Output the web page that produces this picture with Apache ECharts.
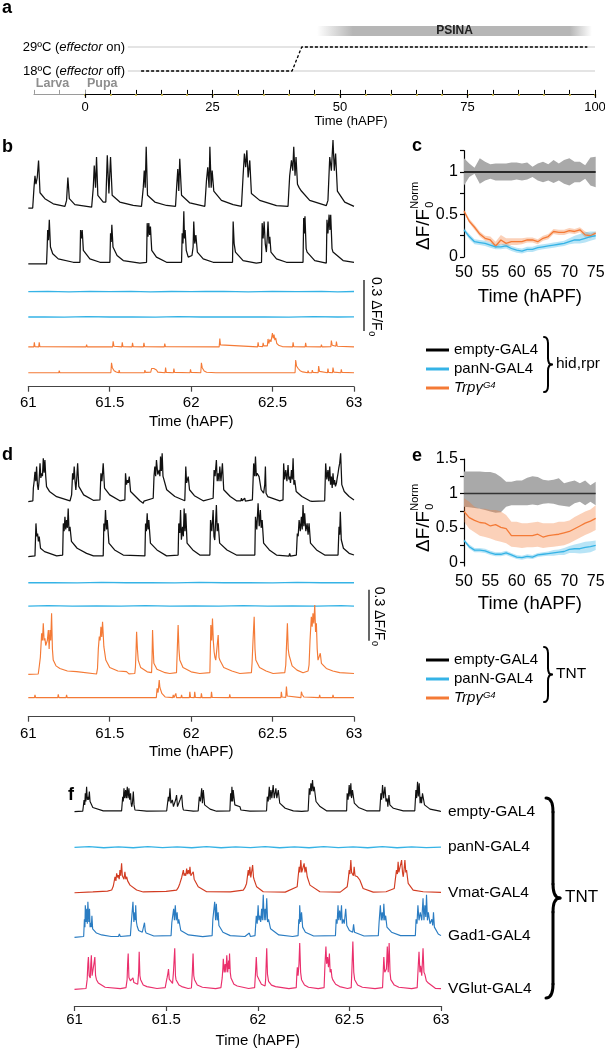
<!DOCTYPE html>
<html><head><meta charset="utf-8">
<script src="https://cdn.jsdelivr.net/npm/echarts@6/dist/echarts.min.js"></script>
<style>html,body{margin:0;padding:0;background:#fff}#c{width:605px;height:1050px}</style>
</head><body><div id="c"></div><script>
// ---------------- DATA ----------------
// Panel a (schedule)
const aTickLabels = [0, 25, 50, 75, 100];
const tempLevels = [18, 29];
const tempLevelSpan = [8.4, 100];
const tempProfile = [[11, 18], [40.6, 18], [42.5, 29], [98.5, 29]];
const psinaRange = [45.5, 99.4];

// Panel b traces [time hAPF, dF/F above baseline]
const bEmpty1 = [[61.0,0],[61.027,0],[61.035,0.12],[61.041,0.19],[61.047,0.14],[61.055,0.18],[61.063,0.28],[61.072,0.09],[61.102,0.055],[61.153,0.025],[61.225,0.01],
[61.235,0.045],[61.243,0.18],[61.252,0.055],[61.286,0.02],[61.389,0.005],
[61.399,0.12],[61.405,0.25],[61.413,0.12],[61.419,0.30],[61.427,0.075],[61.46,0.035],[61.476,0.035],
[61.485,0.31],[61.495,0.085],[61.505,0.30],[61.515,0.075],[61.562,0.035],[61.644,0.015],[61.695,0.01],
[61.706,0.12],[61.712,0.22],[61.718,0.12],[61.724,0.36],[61.732,0.075],[61.777,0.035],[61.849,0.015],[61.904,0.01],
[61.912,0.14],[61.918,0.23],[61.924,0.10],[61.93,0.29],[61.941,0.075],[61.992,0.03],[62.084,0.01],
[62.094,0.16],[62.102,0.24],[62.11,0.12],[62.115,0.36],[62.123,0.12],[62.129,0.22],[62.139,0.10],[62.186,0.045],[62.258,0.02],[62.309,0.01],
[62.319,0.19],[62.327,0.32],[62.335,0.24],[62.342,0.34],[62.35,0.18],[62.36,0.28],[62.37,0.085],[62.421,0.045],[62.524,0.014],[62.595,0.01],
[62.605,0.19],[62.616,0.28],[62.624,0.22],[62.63,0.36],[62.638,0.19],[62.644,0.30],[62.653,0.14],[62.663,0.12],[62.677,0.10],[62.728,0.045],[62.83,0.014],
[62.84,0.045],[62.851,0.30],[62.861,0.22],[62.871,0.40],[62.879,0.22],[62.887,0.32],[62.898,0.10],[62.943,0.035],[63.0,0.01]];
const bEmpty2 = [[61.0,0],[61.112,0],[61.116,0.1],[61.119,0.20],[61.124,0.14],[61.129,0.26],[61.136,0.1],[61.15,0.06],[61.184,0.03],[61.276,0.01],
[61.317,0.01],[61.321,0.20],[61.326,0.15],[61.331,0.20],[61.338,0.08],[61.378,0.03],[61.44,0.01],
[61.501,0.01],[61.505,0.18],[61.509,0.13],[61.513,0.23],[61.52,0.1],[61.532,0.09],[61.545,0.05],[61.583,0.02],[61.685,0.005],
[61.726,0.01],[61.73,0.24],[61.735,0.16],[61.74,0.24],[61.745,0.17],[61.75,0.22],[61.758,0.08],[61.787,0.04],[61.849,0.01],
[61.941,0.01],[61.945,0.18],[61.95,0.12],[61.955,0.31],[61.959,0.15],[61.963,0.2],[61.97,0.08],[61.982,0.04],[62.005,0.05],[62.012,0.1],[62.016,0.25],[62.022,0.12],[62.029,0.17],[62.038,0.07],[62.074,0.03],[62.135,0.01],
[62.254,0.01],[62.258,0.25],[62.264,0.12],[62.272,0.07],[62.319,0.02],[62.4,0.005],
[62.432,0.01],[62.436,0.24],[62.442,0.15],[62.448,0.25],[62.455,0.12],[62.462,0.07],[62.467,0.15],[62.472,0.25],[62.478,0.12],[62.483,0.16],[62.49,0.07],[62.524,0.03],[62.585,0.01],
[62.687,0.01],[62.691,0.27],[62.695,0.18],[62.699,0.28],[62.706,0.09],[62.712,0.07],[62.759,0.02],[62.83,0.005],
[62.834,0.26],[62.84,0.18],[62.847,0.29],[62.852,0.2],[62.857,0.29],[62.865,0.09],[62.871,0.07],[62.933,0.02],[63.0,0.01]];
const bPan1 = [[61,0],[61.12,0.002],[61.25,-0.001],[61.38,0.002],[61.5,0],[61.63,0.002],[61.75,-0.001],[61.88,0.001],[62.0,0],[62.09,0.001],[62.094,0.012],[62.099,0],[62.2,0.002],[62.35,-0.001],[62.5,0.002],[62.65,0],[62.8,0.002],[62.9,-0.001],[63,0.001]];
const bPan2 = [[61,0],[61.1,0.001],[61.22,-0.001],[61.36,0.002],[61.5,0],[61.64,0.001],[61.78,-0.001],[61.92,0.002],[62.06,0],[62.18,0.001],[62.296,0],[62.3,0.008],[62.305,0],[62.45,0.001],[62.6,-0.001],[62.75,0.002],[62.9,0],[63,0.001]];
const bTrp1 = [[61,0],[61.034,0],[61.037,0.027],[61.041,0.002],[61.064,0],[61.067,0.027],[61.071,0.002],[61.355,0],[61.358,0.014],[61.362,0],[61.518,0],[61.521,0.033],[61.526,0.004],[61.574,0],[61.577,0.027],[61.581,0.002],[61.637,0],[61.64,0.024],[61.644,0.002],[61.707,0],[61.71,0.024],[61.714,0.002],[61.835,0],[61.838,0.02],[61.842,0.002],[62.172,0],[62.176,0.049],[62.18,0.012],[62.19,0.004],[62.408,0],[62.411,0.027],[62.415,0.004],[62.439,0.002],[62.442,0.024],[62.446,0.006],[62.468,0.006],[62.472,0.047],[62.477,0.02],[62.483,0.043],[62.49,0.03],[62.495,0.04],[62.499,0.082],[62.504,0.05],[62.509,0.073],[62.514,0.04],[62.519,0.053],[62.526,0.02],[62.54,0.008],[62.56,0.002],[62.623,0],[62.626,0.027],[62.63,0.002],[62.7,0],[62.703,0.024],[62.707,0.002],[62.797,0],[62.8,0.014],[62.804,0],[62.858,0.002],[62.861,0.037],[62.866,0.01],[62.889,0.004],[62.892,0.031],[62.897,0.004],[63,0]];
const bTrp2 = [[61,0],[61.187,0],[61.19,0.012],[61.194,0],[61.212,0],[61.215,0.01],[61.219,0],[61.507,0],[61.511,0.059],[61.516,0.03],[61.521,0.039],[61.527,0.012],[61.54,0.004],[61.555,0],[61.558,0.016],[61.562,0],[61.713,0],[61.716,0.016],[61.72,0.002],[61.752,0.004],[61.757,0.025],[61.764,0.02],[61.771,0.025],[61.78,0.018],[61.787,0.016],[61.795,0.004],[61.84,0],[61.843,0.031],[61.847,0.002],[61.891,0],[61.894,0.025],[61.898,0.002],[61.993,0],[61.996,0.02],[62.0,0.002],[62.059,0],[62.063,0.059],[62.068,0.03],[62.074,0.035],[62.08,0.01],[62.095,0.003],[62.152,0],[62.155,0.008],[62.159,0],[62.388,0],[62.391,0.01],[62.395,0],[62.638,0],[62.642,0.075],[62.647,0.04],[62.652,0.045],[62.657,0.025],[62.663,0.031],[62.669,0.012],[62.677,0.016],[62.685,0.005],[62.715,0],[62.718,0.012],[62.722,0],[62.741,0],[62.744,0.016],[62.748,0.002],[62.78,0],[62.783,0.039],[62.788,0.008],[62.837,0],[62.84,0.025],[62.844,0.002],[62.868,0],[62.871,0.031],[62.876,0.004],[62.919,0],[62.922,0.02],[62.926,0.002],[63,0]];

// Panel c (hid,rpr) summary, hAPF 50..75
const cTime = [50,51,52,53,54,55,56,57,58,59,60,61,62,63,64,65,66,67,68,69,70,71,72,73,74,75];
const cEmptyMean  = [1,1,1,1,1,1,1,1,1,1,1,1,1,1,1,1,1,1,1,1,1,1,1,1,1,1];
const cEmptyUpper = [1.16,1.10,1.05,1.16,1.12,1.09,1.10,1.10,1.10,1.11,1.11,1.10,1.11,1.06,1.10,1.12,1.09,1.14,1.10,1.14,1.16,1.12,1.12,1.08,1.17,1.18];
const cEmptyLower = [0.84,0.94,0.98,0.86,0.90,0.92,0.90,0.90,0.90,0.90,0.91,0.90,0.91,0.94,0.90,0.88,0.90,0.87,0.90,0.86,0.84,0.88,0.88,0.92,0.84,0.82];
const cPanMean  = [0.32,0.24,0.18,0.17,0.16,0.14,0.12,0.12,0.13,0.10,0.08,0.07,0.09,0.09,0.11,0.12,0.13,0.14,0.15,0.16,0.18,0.20,0.20,0.22,0.24,0.25];
const cPanUpper = [0.34,0.27,0.21,0.20,0.19,0.17,0.15,0.15,0.16,0.13,0.11,0.10,0.12,0.12,0.14,0.15,0.16,0.17,0.18,0.19,0.22,0.25,0.27,0.29,0.30,0.30];
const cPanLower = [0.30,0.21,0.15,0.14,0.13,0.11,0.09,0.09,0.10,0.07,0.05,0.04,0.06,0.06,0.08,0.09,0.10,0.11,0.12,0.13,0.15,0.16,0.16,0.17,0.19,0.21];
const cTrpMean  = [0.54,0.42,0.35,0.27,0.22,0.20,0.13,0.20,0.16,0.18,0.18,0.18,0.20,0.20,0.18,0.22,0.24,0.30,0.29,0.29,0.31,0.30,0.32,0.26,0.25,0.28];
const cTrpUpper = [0.56,0.45,0.38,0.30,0.25,0.24,0.18,0.26,0.22,0.22,0.22,0.22,0.23,0.23,0.21,0.25,0.27,0.33,0.32,0.32,0.34,0.33,0.35,0.30,0.28,0.30];
const cTrpLower = [0.52,0.40,0.32,0.24,0.19,0.17,0.10,0.15,0.12,0.14,0.14,0.15,0.17,0.17,0.15,0.19,0.21,0.27,0.26,0.26,0.28,0.27,0.29,0.23,0.22,0.26];

// Panel d traces (TNT)
const dEmpty1 = [[61,0],[61.028,0.005],[61.031,0.08],[61.036,0.12],[61.041,0.176],[61.046,0.12],[61.051,0.206],[61.056,0.10],[61.061,0.069],[61.066,0.12],[61.072,0.225],[61.077,0.14],[61.082,0.167],[61.087,0.15],[61.092,0.255],[61.097,0.17],[61.102,0.245],[61.107,0.15],[61.112,0.088],[61.13,0.06],[61.174,0.029],[61.256,0.004],
[61.266,0.04],[61.272,0.167],[61.277,0.13],[61.282,0.206],[61.287,0.12],[61.292,0.069],[61.297,0.13],[61.303,0.225],[61.31,0.09],[61.34,0.04],[61.399,0.008],
[61.44,0.01],[61.446,0.167],[61.452,0.12],[61.46,0.225],[61.468,0.08],[61.5,0.04],[61.562,0.005],
[61.593,0.01],[61.597,0.167],[61.603,0.1],[61.609,0.127],[61.614,0.11],[61.62,0.147],[61.628,0.06],[61.685,0.005],[61.706,-0.01],[61.71,0.003],
[61.767,0.02],[61.772,0.15],[61.777,0.206],[61.782,0.15],[61.787,0.245],[61.795,0.16],[61.804,0.186],[61.808,0.15],[61.812,0.265],[61.817,0.18],[61.822,0.284],[61.827,0.15],[61.832,0.147],[61.85,0.07],[61.9,0.03],[61.961,0.005],
[61.964,0.1],[61.967,0.206],[61.972,0.11],[61.977,0.12],[61.982,0.147],[61.99,0.07],[62.02,0.035],[62.074,0.005],
[62.135,0.02],[62.141,0.186],[62.147,0.15],[62.155,0.245],[62.16,0.12],[62.166,0.167],[62.171,0.12],[62.176,0.206],[62.183,0.12],[62.192,0.225],[62.2,0.07],[62.24,0.03],[62.278,0.005],[62.305,0.005],[62.309,0.02],[62.313,0.005],[62.325,0.005],[62.329,0.02],[62.333,0.003],
[62.376,0.01],[62.384,0.225],[62.39,0.15],[62.395,0.265],[62.4,0.15],[62.405,0.167],[62.417,0.147],[62.43,0.07],[62.445,0.05],[62.452,0.1],[62.456,0.206],[62.46,0.05],[62.47,0.03],[62.544,0.005],
[62.564,0.01],[62.568,0.225],[62.574,0.13],[62.581,0.186],[62.588,0.12],[62.595,0.216],[62.6,0.13],[62.605,0.147],[62.61,0.11],[62.616,0.186],[62.621,0.13],[62.626,0.255],[62.631,0.1],[62.636,0.127],[62.645,0.06],[62.68,0.03],[62.728,0.005],[62.735,0.002],[62.738,0.015],[62.742,0.002],
[62.82,0.005],[62.826,0.225],[62.833,0.13],[62.84,0.186],[62.845,0.12],[62.851,0.206],[62.856,0.1],[62.861,0.147],[62.866,0.08],[62.871,0.167],[62.876,0.1],[62.881,0.127],[62.886,0.09],[62.892,0.108],[62.897,0.14],[62.902,0.167],[62.907,0.2],[62.912,0.225],[62.918,0.284],[62.925,0.1],[62.94,0.06],[62.97,0.03],[63,0.01]];
const dEmpty2 = [[61,0],[61.041,0.005],[61.047,0.196],[61.052,0.12],[61.057,0.137],[61.062,0.09],[61.067,0.118],[61.075,0.05],[61.1,0.03],[61.174,0.005],
[61.211,0.01],[61.215,0.196],[61.22,0.15],[61.225,0.235],[61.23,0.16],[61.235,0.216],[61.24,0.17],[61.245,0.284],[61.25,0.15],[61.256,0.176],[61.265,0.09],[61.3,0.05],[61.358,0.02],[61.4,0.005],
[61.46,0.005],[61.464,0.196],[61.469,0.15],[61.474,0.275],[61.48,0.16],[61.485,0.216],[61.495,0.08],[61.53,0.04],[61.583,0.01],
[61.716,0.005],[61.72,0.196],[61.725,0.15],[61.73,0.255],[61.735,0.16],[61.74,0.216],[61.75,0.08],[61.79,0.04],[61.849,0.005],
[61.92,0.01],[61.924,0.196],[61.93,0.14],[61.935,0.275],[61.94,0.1],[61.947,0.176],[61.952,0.12],[61.957,0.284],[61.962,0.15],[61.967,0.255],[61.975,0.08],[62.01,0.04],[62.053,0.01],
[62.115,0.01],[62.119,0.216],[62.127,0.15],[62.135,0.275],[62.14,0.12],[62.145,0.098],[62.15,0.2],[62.155,0.304],[62.16,0.15],[62.166,0.196],[62.175,0.08],[62.22,0.04],[62.278,0.01],
[62.391,0.01],[62.395,0.235],[62.403,0.16],[62.411,0.314],[62.418,0.18],[62.425,0.275],[62.43,0.17],[62.436,0.216],[62.445,0.08],[62.48,0.04],[62.524,0.01],[62.6,0.003],[62.605,0.02],[62.61,0.003],
[62.646,0.01],[62.652,0.137],[62.657,0.12],[62.663,0.216],[62.67,0.15],[62.677,0.235],[62.682,0.16],[62.687,0.304],[62.692,0.18],[62.697,0.255],[62.704,0.15],[62.712,0.196],[62.718,0.13],[62.724,0.196],[62.733,0.08],[62.77,0.04],[62.82,0.01],
[62.902,0.01],[62.908,0.176],[62.912,0.13],[62.916,0.265],[62.922,0.1],[62.935,0.05],[62.97,0.02],[63,0.01]];
const dPan1 = [[61,0],[61.15,0.001],[61.3,-0.001],[61.45,0.002],[61.6,0],[61.75,0.001],[61.9,-0.001],[62.05,0.002],[62.2,0],[62.35,0.001],[62.5,-0.001],[62.65,0.002],[62.8,0],[62.95,0.001],[63,0]];
const dPan2 = [[61,0],[61.12,0.002],[61.27,-0.001],[61.42,0.001],[61.57,0],[61.72,0.002],[61.87,-0.001],[62.02,0.001],[62.17,0],[62.32,0.002],[62.47,-0.001],[62.62,0.001],[62.77,0],[62.92,0.002],[63,0]];
const dTrp1 = [[61,0],[61.061,0.002],[61.067,0.045],[61.074,0.1],[61.082,0.241],[61.087,0.2],[61.092,0.3],[61.097,0.2],[61.102,0.212],[61.107,0.17],[61.112,0.163],[61.117,0.2],[61.123,0.261],[61.128,0.15],[61.133,0.261],[61.138,0.2],[61.143,0.359],[61.148,0.15],[61.153,0.084],[61.17,0.05],[61.194,0.035],[61.24,0.02],[61.297,0.016],[61.419,0.002],
[61.425,0.035],[61.43,0.15],[61.436,0.222],[61.441,0.2],[61.446,0.28],[61.451,0.22],[61.456,0.31],[61.464,0.163],[61.476,0.084],[61.5,0.04],[61.55,0.02],[61.603,0.016],[61.608,0.005],[61.613,0.016],[61.618,0.003],
[61.654,0.005],[61.658,0.045],[61.662,0.15],[61.665,0.251],[61.67,0.15],[61.675,0.084],[61.69,0.04],[61.73,0.015],[61.757,0.01],
[61.76,0.1],[61.763,0.261],[61.767,0.15],[61.771,0.065],[61.79,0.03],[61.84,0.01],[61.869,0.005],
[61.91,0.01],[61.915,0.15],[61.92,0.29],[61.925,0.15],[61.93,0.084],[61.95,0.04],[62.0,0.015],[62.053,0.005],
[62.115,0.01],[62.121,0.29],[62.126,0.2],[62.131,0.329],[62.136,0.2],[62.141,0.133],[62.146,0.1],[62.151,0.084],[62.158,0.15],[62.166,0.231],[62.171,0.1],[62.176,0.084],[62.2,0.04],[62.25,0.02],[62.299,0.005],
[62.37,0.01],[62.374,0.065],[62.38,0.2],[62.387,0.339],[62.392,0.15],[62.397,0.084],[62.42,0.04],[62.46,0.02],[62.503,0.005],
[62.575,0.01],[62.581,0.055],[62.586,0.18],[62.591,0.3],[62.596,0.15],[62.601,0.114],[62.62,0.05],[62.65,0.025],[62.687,0.01],
[62.718,0.02],[62.724,0.055],[62.73,0.2],[62.738,0.339],[62.743,0.28],[62.748,0.359],[62.753,0.3],[62.759,0.408],[62.764,0.25],[62.769,0.3],[62.774,0.15],[62.779,0.084],[62.787,0.09],[62.793,0.124],[62.8,0.065],[62.83,0.035],[62.87,0.02],[62.912,0.01],[63,0.005]];
const dTrp2 = [[61,0],[61.038,0],[61.041,0.016],[61.045,0],[61.181,0],[61.184,0.02],[61.188,0],[61.232,0],[61.235,0.016],[61.239,0],[61.324,0],[61.327,0.008],[61.331,0],[61.6,0],[61.603,0.01],[61.607,0],[61.786,0],[61.791,0.055],[61.797,0.03],[61.804,0.104],[61.808,0.06],[61.812,0.065],[61.82,0.025],[61.828,0.016],[61.84,0.004],[61.887,0],[61.89,0.016],[61.894,0],[61.903,0],[61.906,0.025],[61.91,0],[61.938,0],[61.941,0.016],[61.945,0],[61.989,0],[61.992,0.035],[61.996,0.002],[62.019,0],[62.022,0.035],[62.026,0.002],[62.06,0],[62.063,0.025],[62.067,0],[62.122,0],[62.125,0.035],[62.129,0.002],[62.234,0],[62.237,0.02],[62.241,0],[62.275,0],[62.278,0.01],[62.282,0],[62.551,0],[62.554,0.035],[62.558,0.004],[62.581,0.002],[62.585,0.065],[62.59,0.01],[62.674,0],[62.677,0.035],[62.681,0.02],[62.687,0.031],[62.692,0.004],[62.786,0],[62.789,0.016],[62.793,0],[62.868,0],[62.871,0.016],[62.875,0],[62.94,0],[62.943,0.01],[62.947,0],[63,0]];

// Panel e (TNT) summary
const eEmptyMean  = [1,1,1,1,1,1,1,1,1,1,1,1,1,1,1,1,1,1,1,1,1,1,1,1,1,1];
const eEmptyUpper = [1.32,1.32,1.32,1.32,1.31,1.31,1.29,1.24,1.17,1.17,1.19,1.19,1.23,1.25,1.24,1.20,1.19,1.20,1.22,1.15,1.17,1.19,1.15,1.19,1.12,1.17];
const eEmptyLower = [0.81,0.80,0.79,0.78,0.76,0.74,0.72,0.73,0.81,0.83,0.83,0.83,0.83,0.84,0.83,0.85,0.86,0.85,0.83,0.82,0.81,0.86,0.88,0.83,0.88,0.83];
const ePanMean  = [0.32,0.23,0.18,0.18,0.17,0.14,0.12,0.12,0.14,0.11,0.08,0.07,0.09,0.08,0.11,0.12,0.13,0.14,0.15,0.16,0.19,0.20,0.20,0.22,0.23,0.25];
const ePanUpper = [0.34,0.26,0.21,0.21,0.20,0.17,0.15,0.15,0.17,0.14,0.11,0.10,0.12,0.11,0.14,0.15,0.16,0.18,0.19,0.21,0.24,0.26,0.28,0.30,0.31,0.32];
const ePanLower = [0.30,0.20,0.15,0.15,0.14,0.11,0.09,0.09,0.11,0.08,0.05,0.04,0.06,0.05,0.08,0.09,0.10,0.10,0.11,0.11,0.14,0.14,0.13,0.14,0.15,0.18];
const eTrpMean  = [0.74,0.65,0.61,0.58,0.57,0.53,0.55,0.51,0.49,0.39,0.39,0.39,0.39,0.39,0.41,0.37,0.39,0.40,0.41,0.43,0.45,0.49,0.53,0.57,0.60,0.64];
const eTrpUpper = [0.93,0.88,0.81,0.78,0.78,0.76,0.76,0.74,0.69,0.59,0.59,0.57,0.57,0.58,0.59,0.57,0.57,0.57,0.59,0.59,0.61,0.66,0.70,0.74,0.77,0.83];
const eTrpLower = [0.59,0.49,0.44,0.39,0.37,0.35,0.32,0.30,0.28,0.23,0.22,0.21,0.22,0.22,0.23,0.21,0.22,0.23,0.24,0.25,0.28,0.32,0.36,0.40,0.43,0.47];

// Panel f traces (TNT with various drivers)
const fEmpty = [[61,0],[61.045,0.003],[61.048,0.03],[61.052,0.069],[61.056,0.04],[61.059,0.108],[61.062,0.06],[61.066,0.147],[61.07,0.07],[61.074,0.088],[61.077,0.07],[61.081,0.118],[61.085,0.06],[61.088,0.049],[61.1,0.025],[61.157,0.005],
[61.257,0.005],[61.263,0.088],[61.266,0.06],[61.27,0.137],[61.274,0.08],[61.279,0.127],[61.283,0.08],[61.288,0.147],[61.292,0.08],[61.297,0.137],[61.301,0.07],[61.306,0.108],[61.309,0.05],[61.312,0.029],[61.316,0.05],[61.321,0.118],[61.325,0.04],[61.33,0.01],[61.34,0.02],[61.394,0.003],
[61.503,0.005],[61.512,0.088],[61.516,0.06],[61.521,0.137],[61.526,0.05],[61.534,0.069],[61.54,0.03],[61.548,0.029],[61.552,0.07],[61.557,0.098],[61.562,0.03],[61.572,0.029],[61.576,0.07],[61.585,0.098],[61.59,0.03],[61.594,0.01],[61.648,0.003],
[61.675,0.005],[61.681,0.088],[61.687,0.06],[61.694,0.137],[61.698,0.05],[61.703,0.127],[61.71,0.04],[61.74,0.015],[61.775,0.003],
[61.848,0.005],[61.852,0.108],[61.856,0.06],[61.859,0.147],[61.863,0.06],[61.866,0.127],[61.875,0.04],[61.903,0.029],[61.908,0.01],[61.912,0.02],[61.916,0.005],[61.957,0.003],
[62.048,0.005],[62.052,0.088],[62.057,0.06],[62.063,0.147],[62.067,0.07],[62.072,0.127],[62.077,0.08],[62.084,0.157],[62.09,0.08],[62.099,0.137],[62.104,0.08],[62.112,0.127],[62.12,0.05],[62.15,0.02],[62.194,0.005],[62.24,0.002],[62.244,0.01],[62.248,0.002],
[62.275,0.005],[62.281,0.137],[62.285,0.1],[62.29,0.167],[62.294,0.12],[62.299,0.186],[62.303,0.12],[62.308,0.147],[62.318,0.06],[62.34,0.03],[62.375,0.005],
[62.485,0.005],[62.488,0.108],[62.493,0.07],[62.499,0.157],[62.503,0.09],[62.508,0.167],[62.512,0.08],[62.517,0.127],[62.527,0.05],[62.55,0.025],[62.594,0.005],
[62.666,0.005],[62.672,0.108],[62.676,0.07],[62.681,0.157],[62.687,0.08],[62.694,0.147],[62.7,0.06],[62.706,0.078],[62.71,0.03],[62.716,0.098],[62.721,0.04],[62.74,0.02],[62.794,0.005],
[62.857,0.005],[62.863,0.127],[62.867,0.08],[62.872,0.176],[62.876,0.09],[62.881,0.167],[62.886,0.05],[62.89,0.088],[62.894,0.05],[62.899,0.108],[62.91,0.04],[62.94,0.015],[62.994,0.003],[63,0.002]];
const fPan = [[61,0],[61.08,0.004],[61.16,-0.002],[61.24,0.003],[61.32,-0.002],[61.4,0.004],[61.48,-0.001],[61.56,0.003],[61.64,-0.002],[61.72,0.004],[61.8,-0.002],[61.88,0.003],[61.96,-0.001],[62.04,0.004],[62.12,-0.002],[62.2,0.003],[62.28,-0.002],[62.36,0.004],[62.44,-0.001],[62.52,0.003],[62.6,-0.002],[62.68,0.004],[62.76,-0.002],[62.84,0.003],[62.92,-0.001],[63,0.002]];
const fVmat = [[61,0],[61.1,0.005],[61.18,0.01],[61.203,0.016],[61.212,0.04],[61.221,0.094],[61.226,0.07],[61.23,0.114],[61.235,0.09],[61.239,0.104],[61.244,0.08],[61.248,0.133],[61.252,0.1],[61.257,0.173],[61.261,0.1],[61.266,0.104],[61.27,0.08],[61.275,0.124],[61.28,0.08],[61.285,0.094],[61.29,0.07],[61.294,0.075],[61.303,0.045],[61.339,0.016],[61.375,0.005],[61.5,0.008],
[61.557,0.016],[61.566,0.03],[61.575,0.055],[61.585,0.09],[61.594,0.133],[61.598,0.1],[61.603,0.114],[61.607,0.1],[61.612,0.143],[61.616,0.11],[61.621,0.133],[61.626,0.11],[61.63,0.153],[61.635,0.1],[61.639,0.104],[61.644,0.09],[61.648,0.124],[61.653,0.08],[61.657,0.075],[61.675,0.035],[61.721,0.006],[61.85,0.005],
[61.921,0.016],[61.93,0.03],[61.939,0.055],[61.948,0.133],[61.952,0.1],[61.957,0.153],[61.962,0.09],[61.966,0.094],[61.972,0.163],[61.977,0.09],[61.981,0.075],[61.994,0.035],[62.03,0.006],[62.15,0.004],
[62.215,0.035],[62.22,0.09],[62.226,0.153],[62.23,0.12],[62.235,0.192],[62.24,0.12],[62.244,0.114],[62.249,0.13],[62.253,0.173],[62.258,0.12],[62.263,0.153],[62.27,0.094],[62.285,0.045],[62.339,0.006],[62.45,0.004],
[62.488,0.035],[62.494,0.08],[62.499,0.133],[62.503,0.11],[62.508,0.192],[62.512,0.12],[62.517,0.114],[62.522,0.1],[62.526,0.153],[62.531,0.1],[62.535,0.104],[62.544,0.094],[62.557,0.075],[62.575,0.025],[62.63,0.004],[62.7,0.006],
[62.745,0.025],[62.751,0.08],[62.757,0.133],[62.762,0.11],[62.766,0.182],[62.77,0.12],[62.775,0.114],[62.78,0.13],[62.785,0.192],[62.79,0.12],[62.794,0.094],[62.798,0.13],[62.803,0.192],[62.808,0.12],[62.812,0.133],[62.821,0.055],[62.848,0.016],[62.903,0.006],[63,0.002]];
const fGad1 = [[61,0],[61.05,0.005],[61.054,0.106],[61.057,0.06],[61.059,0.188],[61.063,0.09],[61.067,0.168],[61.07,0.08],[61.073,0.209],[61.078,0.09],[61.082,0.168],[61.085,0.06],[61.088,0.086],[61.092,0.06],[61.095,0.127],[61.099,0.05],[61.101,0.045],[61.12,0.025],[61.148,0.014],[61.2,0.005],[61.24,0.005],[61.245,0.02],[61.25,0.005],
[61.305,0.01],[61.31,0.086],[61.315,0.08],[61.319,0.209],[61.324,0.09],[61.329,0.147],[61.332,0.1],[61.334,0.188],[61.338,0.09],[61.342,0.065],[61.35,0.04],[61.37,0.03],[61.376,0.035],[61.382,0.086],[61.386,0.04],[61.391,0.025],[61.433,0.008],
[61.527,0.01],[61.531,0.086],[61.536,0.08],[61.541,0.168],[61.545,0.1],[61.55,0.188],[61.555,0.1],[61.56,0.147],[61.565,0.08],[61.569,0.106],[61.58,0.04],[61.622,0.014],[61.7,0.004],
[61.751,0.01],[61.755,0.106],[61.76,0.1],[61.765,0.209],[61.77,0.1],[61.774,0.198],[61.779,0.1],[61.784,0.147],[61.788,0.07],[61.793,0.065],[61.81,0.03],[61.85,0.01],[61.93,0.005],
[61.954,0.025],[61.96,0.005],[61.985,0.01],[61.992,0.127],[61.997,0.08],[62.002,0.188],[62.006,0.1],[62.011,0.127],[62.016,0.09],[62.021,0.168],[62.025,0.1],[62.03,0.25],[62.035,0.1],[62.04,0.168],[62.044,0.1],[62.049,0.229],[62.054,0.09],[62.059,0.106],[62.07,0.05],[62.115,0.014],[62.19,0.005],
[62.22,0.01],[62.224,0.106],[62.227,0.08],[62.229,0.188],[62.234,0.09],[62.239,0.147],[62.245,0.06],[62.26,0.03],[62.305,0.008],
[62.424,0.01],[62.428,0.106],[62.433,0.08],[62.438,0.188],[62.442,0.1],[62.447,0.157],[62.452,0.1],[62.457,0.188],[62.461,0.08],[62.466,0.106],[62.472,0.08],[62.48,0.168],[62.486,0.07],[62.491,0.065],[62.5,0.04],[62.518,0.03],[62.523,0.076],[62.528,0.03],[62.533,0.025],[62.58,0.008],
[62.658,0.01],[62.662,0.086],[62.666,0.08],[62.669,0.188],[62.674,0.1],[62.679,0.147],[62.684,0.1],[62.688,0.198],[62.693,0.1],[62.698,0.127],[62.705,0.06],[62.713,0.065],[62.73,0.03],[62.779,0.01],
[62.86,0.01],[62.864,0.106],[62.869,0.08],[62.874,0.188],[62.88,0.1],[62.887,0.147],[62.895,0.1],[62.902,0.229],[62.907,0.1],[62.912,0.188],[62.917,0.12],[62.921,0.25],[62.926,0.1],[62.931,0.147],[62.94,0.08],[62.95,0.106],[62.955,0.07],[62.959,0.147],[62.964,0.06],[62.969,0.065],[62.985,0.02],[63,0.01]];
const fVGlut = [[61,0],[61.063,0.005],[61.069,0.057],[61.073,0.15],[61.076,0.19],[61.08,0.08],[61.086,0.067],[61.089,0.15],[61.092,0.2],[61.096,0.08],[61.101,0.078],[61.106,0.15],[61.111,0.19],[61.115,0.08],[61.12,0.057],[61.13,0.037],[61.167,0.012],[61.25,0.004],
[61.281,0.01],[61.287,0.057],[61.29,0.15],[61.293,0.211],[61.297,0.07],[61.3,0.078],[61.305,0.05],[61.31,0.057],[61.314,0.05],[61.319,0.067],[61.324,0.04],[61.329,0.037],[61.345,0.03],[61.35,0.1],[61.353,0.221],[61.357,0.08],[61.361,0.057],[61.375,0.025],[61.395,0.016],[61.45,0.005],
[61.495,0.01],[61.5,0.04],[61.505,0.067],[61.509,0.09],[61.513,0.119],[61.517,0.06],[61.52,0.057],[61.535,0.035],[61.54,0.1],[61.547,0.241],[61.551,0.08],[61.554,0.057],[61.57,0.025],[61.585,0.016],[61.62,0.005],
[61.638,0.008],[61.643,0.1],[61.647,0.211],[61.651,0.08],[61.655,0.057],[61.67,0.025],[61.698,0.012],[61.77,0.004],
[61.799,0.01],[61.806,0.067],[61.81,0.13],[61.812,0.18],[61.817,0.1],[61.822,0.149],[61.826,0.1],[61.831,0.2],[61.836,0.1],[61.841,0.17],[61.844,0.12],[61.846,0.211],[61.85,0.1],[61.854,0.067],[61.87,0.03],[61.888,0.02],[61.95,0.005],
[61.983,0.01],[61.988,0.1],[61.992,0.19],[61.997,0.08],[62.002,0.078],[62.006,0.06],[62.011,0.067],[62.02,0.03],[62.04,0.02],[62.043,0.057],[62.046,0.15],[62.049,0.241],[62.053,0.09],[62.059,0.047],[62.075,0.025],[62.097,0.016],[62.17,0.004],
[62.21,0.01],[62.213,0.08],[62.216,0.129],[62.22,0.08],[62.225,0.15],[62.229,0.272],[62.234,0.1],[62.239,0.057],[62.255,0.025],[62.277,0.012],[62.33,0.004],
[62.362,0.01],[62.367,0.15],[62.372,0.252],[62.376,0.15],[62.381,0.19],[62.386,0.13],[62.391,0.211],[62.395,0.1],[62.4,0.119],[62.405,0.07],[62.409,0.057],[62.425,0.03],[62.447,0.016],[62.49,0.005],
[62.51,0.01],[62.514,0.12],[62.519,0.282],[62.524,0.1],[62.529,0.057],[62.545,0.025],[62.571,0.012],[62.64,0.004],
[62.681,0.01],[62.688,0.19],[62.693,0.1],[62.698,0.108],[62.702,0.12],[62.707,0.252],[62.712,0.1],[62.717,0.272],[62.722,0.1],[62.726,0.057],[62.745,0.025],[62.77,0.012],[62.84,0.004],
[62.87,0.01],[62.875,0.12],[62.88,0.221],[62.885,0.1],[62.889,0.139],[62.895,0.08],[62.902,0.241],[62.907,0.1],[62.912,0.088],[62.92,0.05],[62.931,0.037],[62.969,0.006],[63,0.004]];
const fLabels = ['empty-GAL4', 'panN-GAL4', 'Vmat-GAL4', 'Gad1-GAL4', 'VGlut-GAL4'];
const scaleBarValue = 0.3;

// ---------------- STYLE / LAYOUT ----------------
const FONT = '"Liberation Sans", Arial, Helvetica, sans-serif';
const C_BLACK = '#111111', C_BLUE = '#35b3e6', C_ORANGE = '#f47a36';
const C_VMAT = '#d23c22', C_GAD1 = '#2a7cc2', C_VGLUT = '#ea2f6c';
const bOffsets = [1.051, 0.722, 0.559, 0.41, 0.234, 0.082];
const dOffsets = [1.265, 0.941, 0.788, 0.651, 0.249, 0.112];
const fOffsets = [1.143, 0.933, 0.666, 0.404, 0.098];

function G(left, top, width, height) {
  return {left, top, width, height, containLabel: false, outerBoundsMode: 'none', show: false};
}
function hiddenY(gi, min, max) {
  return {gridIndex: gi, type: 'value', min, max, show: false, splitLine: {show: false}};
}
function timeAxis(gi, margin, gap) {
  return {gridIndex: gi, type: 'value', position: 'bottom', min: 61, max: 63, interval: 0.5,
    axisLine: {show: true, onZero: false, lineStyle: {color: '#444', width: 1.2}},
    axisTick: {show: true, length: 5, lineStyle: {color: '#444', width: 1.2}},
    axisLabel: {fontSize: 15, color: '#000', margin, fontFamily: FONT},
    splitLine: {show: false},
    name: 'Time (hAPF)', nameLocation: 'middle', nameGap: gap,
    nameTextStyle: {fontSize: 15, color: '#000', fontFamily: FONT}};
}
function sumXAxis(gi, margin, gap) {
  return {gridIndex: gi, type: 'value', position: 'bottom', min: 50, max: 75, interval: 5,
    axisLine: {show: false, onZero: false}, axisTick: {show: false},
    axisLabel: {fontSize: 16, color: '#000', margin, fontFamily: FONT},
    splitLine: {show: false},
    name: 'Time (hAPF)', nameLocation: 'middle', nameGap: gap,
    nameTextStyle: {fontSize: 18.5, color: '#000', fontFamily: FONT}};
}
function trace(name, data, offset, color, xi, yi, width, extra) {
  return Object.assign({name, type: 'line', xAxisIndex: xi, yAxisIndex: yi,
    data: data.map(p => [p[0], p[1] + offset]), showSymbol: false, symbol: 'none',
    color, lineStyle: {color, width: width || 1.1}, silent: true, z: 3}, extra || {});
}
function band(xs, lo, hi, fill, xi, yi) {
  return {type: 'custom', xAxisIndex: xi, yAxisIndex: yi, silent: true, data: [0], z: 2,
    renderItem: (params, api) => {
      const pts = [];
      for (let i = 0; i < xs.length; i++) pts.push(api.coord([xs[i], hi[i]]));
      for (let i = xs.length - 1; i >= 0; i--) pts.push(api.coord([xs[i], lo[i]]));
      return {type: 'polygon', shape: {points: pts}, style: {fill}};
    }};
}
function meanLine(name, xs, ys, color, width, xi, yi) {
  return {name, type: 'line', xAxisIndex: xi, yAxisIndex: yi, data: xs.map((x, i) => [x, ys[i]]),
    showSymbol: false, symbol: 'none', color, itemStyle: {color}, lineStyle: {color, width}, silent: true, z: 4};
}
function legendAt(top) {
  return {data: ['empty-GAL4', 'panN-GAL4', 'Trpγ'], orient: 'vertical', left: 421, top,
    itemWidth: 23, itemHeight: 3, itemGap: 4, icon: 'rect', selectedMode: false,
    formatter: n => n === 'Trpγ' ? '{i|Trpγ}{s|G4}' : n,
    textStyle: {fontSize: 15, color: '#000', fontFamily: FONT, lineHeight: 15,
      rich: {i: {fontStyle: 'italic', fontSize: 15, fontFamily: FONT, color: '#000', lineHeight: 15},
             s: {fontStyle: 'italic', fontSize: 9.5, fontFamily: FONT, color: '#000', verticalAlign: 'top', lineHeight: 15}}}};
}

const series = [];
// Panel a
tempLevels.forEach(lv => series.push({type: 'line', xAxisIndex: 0, yAxisIndex: 0, data: [[tempLevelSpan[0], lv], [tempLevelSpan[1], lv]],
  showSymbol: false, symbol: 'none', lineStyle: {color: '#c9c9c9', width: 1}, silent: true, z: 1}));
series.push({type: 'line', xAxisIndex: 0, yAxisIndex: 0, data: tempProfile, showSymbol: false, symbol: 'none',
  lineStyle: {color: '#000', width: 1.3, type: [3, 2]}, silent: true, z: 3});
series.push({type: 'custom', xAxisIndex: 0, yAxisIndex: 0, silent: true, data: [psinaRange], z: 2,
  renderItem: (params, api) => {
    const a = api.coord([api.value(0), 38.6]), b = api.coord([api.value(1), 34.0]);
    return {type: 'group', children: [
      {type: 'rect', shape: {x: a[0], y: a[1], width: b[0] - a[0], height: b[1] - a[1]},
        style: {fill: new echarts.graphic.LinearGradient(0, 0, 1, 0, [
          {offset: 0, color: 'rgba(182,182,182,0)'}, {offset: 0.13, color: '#b6b6b6'},
          {offset: 0.92, color: '#b6b6b6'}, {offset: 1, color: 'rgba(182,182,182,0)'}])}},
      {type: 'text', style: {text: 'PSINA', x: (a[0] + b[0]) / 2, y: (a[1] + b[1]) / 2, align: 'center', verticalAlign: 'middle',
        textAlign: 'center', textVerticalAlign: 'middle', font: 'bold 12px ' + FONT, fill: '#222'}}]};
  }});
// Panel b
[bEmpty1, bEmpty2].forEach((d, i) => series.push(trace('b-empty' + i, d, bOffsets[i], C_BLACK, 4, 2, 1.25)));
[bPan1, bPan2].forEach((d, i) => series.push(trace('b-pan' + i, d, bOffsets[2 + i], C_BLUE, 4, 2, 1.3)));
[bTrp1, bTrp2].forEach((d, i) => series.push(trace('b-trp' + i, d, bOffsets[4 + i], C_ORANGE, 4, 2, 1.1)));
// Panel c
series.push(band(cTime, cEmptyLower, cEmptyUpper, '#a9a9a9', 5, 3));
series.push(band(cTime, cTrpLower, cTrpUpper, 'rgba(243,122,54,0.35)', 5, 3));
series.push(band(cTime, cPanLower, cPanUpper, 'rgba(53,179,230,0.35)', 5, 3));
series.push(meanLine('empty-GAL4', cTime, cEmptyMean, '#000', 1.4, 5, 3));
series.push(meanLine('Trpγ', cTime, cTrpMean, C_ORANGE, 1.3, 5, 3));
series.push(meanLine('panN-GAL4', cTime, cPanMean, C_BLUE, 1.3, 5, 3));
// Panel d
[dEmpty1, dEmpty2].forEach((d, i) => series.push(trace('d-empty' + i, d, dOffsets[i], C_BLACK, 6, 4, 1.25)));
[dPan1, dPan2].forEach((d, i) => series.push(trace('d-pan' + i, d, dOffsets[2 + i], C_BLUE, 6, 4, 1.3)));
[dTrp1, dTrp2].forEach((d, i) => series.push(trace('d-trp' + i, d, dOffsets[4 + i], C_ORANGE, 6, 4, 1.15)));
// Panel e
series.push(band(cTime, eEmptyLower, eEmptyUpper, '#a9a9a9', 7, 5));
series.push(band(cTime, eTrpLower, eTrpUpper, 'rgba(243,122,54,0.35)', 7, 5));
series.push(band(cTime, ePanLower, ePanUpper, 'rgba(53,179,230,0.35)', 7, 5));
series.push(meanLine('empty-GAL4', cTime, eEmptyMean, '#333', 1.6, 7, 5));
series.push(meanLine('Trpγ', cTime, eTrpMean, C_ORANGE, 1.3, 7, 5));
series.push(meanLine('panN-GAL4', cTime, ePanMean, C_BLUE, 1.3, 7, 5));
// Panel f
const fColors = [C_BLACK, C_BLUE, C_VMAT, C_GAD1, C_VGLUT];
[fEmpty, fPan, fVmat, fGad1, fVGlut].forEach((d, i) => series.push(trace('f-' + i, d, fOffsets[i], fColors[i], 8, 6, i === 1 ? 1.3 : 1.15,
  {endLabel: {show: true, formatter: () => fLabels[i], distance: 7, color: '#000', fontSize: 15.5, fontFamily: FONT}})));

const option = {
  animation: false, backgroundColor: '#fff', textStyle: {fontFamily: FONT},
  grid: [G(85, 25.2, 510, 68.7), G(34, 25.2, 51, 68.7), G(28.3, 131.7, 325.7, 255), G(464, 150.7, 131.7, 106.3),
         G(28.3, 453.2, 325.7, 263.5), G(464, 459, 131.7, 107), G(74.5, 768, 366.5, 238)],
  xAxis: [
    {gridIndex: 0, type: 'value', position: 'bottom', min: 0, max: 100, interval: 5,
      axisLine: {show: true, onZero: false, lineStyle: {color: '#000', width: 1.2}},
      axisTick: {show: true, inside: true, length: 4, lineStyle: {color: '#000', width: 1}},
      axisLabel: {formatter: v => aTickLabels.indexOf(v) >= 0 ? String(v) : '', fontSize: 13, margin: 7, color: '#000', fontFamily: FONT},
      splitLine: {show: false}, name: 'Time (hAPF)', nameLocation: 'middle', nameGap: 18,
      nameTextStyle: {fontSize: 13, color: '#000', fontFamily: FONT, padding: [0, 0, 0, 22]}},
    {gridIndex: 0, type: 'value', position: 'bottom', min: 0, max: 100, interval: 5, axisLine: {show: false, onZero: false},
      axisTick: {show: true, inside: false, length: 2, lineStyle: {color: '#d8c040', width: 1.5}}, axisLabel: {show: false}, splitLine: {show: false}},
    {gridIndex: 0, type: 'value', position: 'bottom', min: 0, max: 100, interval: 25, axisLine: {show: false, onZero: false},
      axisTick: {show: true, inside: false, length: 4, lineStyle: {color: '#000', width: 1.2}}, axisLabel: {show: false}, splitLine: {show: false}},
    {gridIndex: 1, type: 'value', position: 'bottom', min: -10, max: 0, interval: 5,
      axisLine: {show: true, onZero: false, lineStyle: {color: '#9a9a9a', width: 1.2}},
      axisTick: {show: true, inside: true, length: 4, lineStyle: {color: '#9a9a9a', width: 1}}, axisLabel: {show: false}, splitLine: {show: false}},
    timeAxis(2, 9, 28),
    sumXAxis(3, 8, 30),
    timeAxis(4, 10, 28),
    sumXAxis(5, 8, 28),
    timeAxis(6, 6, 27)
  ],
  yAxis: [
    hiddenY(0, 7.5, 39), hiddenY(1, 7.5, 39), hiddenY(2, 0, 1.5),
    {gridIndex: 3, type: 'value', min: 0, max: 1.25, interval: 0.25,
      axisLine: {show: true, onZero: false, lineStyle: {color: '#000', width: 1.2}},
      axisTick: {show: true, length: 4, lineStyle: {color: '#000', width: 1.2}},
      axisLabel: {formatter: v => Math.abs(v * 2 - Math.round(v * 2)) < 1e-9 ? String(v) : '', fontSize: 16, margin: 6, color: '#000', fontFamily: FONT},
      splitLine: {show: false}},
    hiddenY(4, 0, 1.55),
    {gridIndex: 5, type: 'value', min: -0.05, max: 1.5,
      axisLine: {show: true, onZero: false, lineStyle: {color: '#000', width: 1.2}},
      axisTick: {show: true, length: 4, customValues: [0, 0.25, 0.5, 0.75, 1, 1.25, 1.5], lineStyle: {color: '#000', width: 1.2}},
      axisLabel: {customValues: [0, 0.5, 1, 1.5], fontSize: 16, margin: 6, color: '#000', fontFamily: FONT},
      splitLine: {show: false}},
    hiddenY(6, 0, 1.4)
  ],
  legend: [legendAt(337.5), legendAt(647.5)],
  series
};

const chart = echarts.init(document.getElementById('c'), null, {renderer: 'canvas', width: 605, height: 1050});
chart.setOption(option);

// ---------- annotations ----------
const mctx = document.createElement('canvas').getContext('2d');
function tw(text, font) { mctx.font = font; return mctx.measureText(text).width; }
function T(x, y, text, font, align, fill) {
  const a = align || 'left';
  return {type: 'text', x, y, silent: true, style: {text, font, fill: fill || '#000', align: a, verticalAlign: 'middle',
    textAlign: a, textVerticalAlign: 'middle'}};
}
function richT(x, y, text, rich, align) {
  return {type: 'text', x, y, silent: true, style: {text, rich, fill: '#000', align: align || 'left', verticalAlign: 'middle', textAlign: align || 'left', textVerticalAlign: 'middle'}};
}
function brace(x, y, w, h, lw) {
  const r = Math.min(w, h * 0.12), m = x + w / 2, c = y + h / 2;
  const st = {stroke: '#000', lineWidth: lw, fill: null, lineCap: 'round'};
  const q = (x1, y1, cx, cy, x2, y2) => ({type: 'bezierCurve', silent: true, shape: {x1, y1, cpx1: cx, cpy1: cy, x2, y2}, style: st});
  const l = (x1, y1, x2, y2) => ({type: 'line', silent: true, shape: {x1, y1, x2, y2}, style: st});
  return {type: 'group', silent: true, children: [
    q(x, y, m, y, m, y + r), l(m, y + r, m, c - r), q(m, c - r, m, c, x + w, c),
    q(x + w, c, m, c, m, c + r), l(m, c + r, m, y + h - r), q(m, y + h - r, m, y + h, x, y + h)]};
}
function normLabel(x, y) {
  const f1 = '19px ' + FONT, f2 = '11px ' + FONT;
  const w = tw('ΔF/F', f1);
  return {type: 'group', x, y, rotation: Math.PI / 2, silent: true, children: [
    T(0, 0, 'ΔF/F', f1, 'left'), T(w + 1, 6, '0', f2, 'left'), T(w, -9, 'Norm', f2, 'left')]};
}
function scaleBarLabel(x, y) {
  const f1 = '14px ' + FONT, f2 = '9px ' + FONT;
  const w = tw('0.3 ΔF/F', f1);
  return {type: 'group', x, y, rotation: -Math.PI / 2, silent: true, children: [
    T(0, 0, '0.3 ΔF/F', f1, 'left'), T(w + 0.5, 5, '0', f2, 'left')]};
}
function scaleBar(gi, base, dx) {
  const p0 = chart.convertToPixel({gridIndex: gi}, [63, base]);
  const p1 = chart.convertToPixel({gridIndex: gi}, [63, base + scaleBarValue]);
  return {bar: {type: 'line', silent: true, shape: {x1: p0[0] + dx, y1: p0[1], x2: p1[0] + dx, y2: p1[1]}, style: {stroke: '#000', lineWidth: 1.2}},
          top: p1[1], x: p0[0] + dx};
}
const sbB = scaleBar(2, 0.328, 10), sbD = scaleBar(4, 0.447, 15);
const bold = 'bold 18px ' + FONT;
const tempRich = {n: {fontSize: 13, fontFamily: FONT, fill: '#000'}, i: {fontSize: 13, fontFamily: FONT, fontStyle: 'italic', fill: '#000'}};
const graphics = [
  T(2, 8, 'a', bold), T(2, 147, 'b', bold), T(412, 146, 'c', bold), T(2, 455, 'd', bold), T(412, 456, 'e', bold), T(68, 795, 'f', bold),
  richT(125, 47, '{n|29ºC (}{i|effector}{n| on)}', tempRich, 'right'),
  richT(125, 71, '{n|18ºC (}{i|effector}{n| off)}', tempRich, 'right'),
  T(52.5, 84, 'Larva', 'bold 12.5px ' + FONT, 'center', '#8e8e8e'),
  T(87, 84, 'Pupa', 'bold 12.5px ' + FONT, 'left', '#8e8e8e'),
  sbB.bar, sbD.bar,
  scaleBarLabel(sbB.x + 12, sbB.top - 3), scaleBarLabel(sbD.x + 10, sbD.top - 3),
  normLabel(424, 250), normLabel(424, 552),
  brace(544, 337, 8, 55, 2), brace(544, 647, 8, 55, 2), brace(546, 798, 14, 200, 3),
  T(556, 364, 'hid,rpr', '15.5px ' + FONT), T(556, 674, 'TNT', '15.5px ' + FONT), T(565, 897, 'TNT', '17px ' + FONT)
];
chart.setOption({graphic: graphics});
</script></body></html>
